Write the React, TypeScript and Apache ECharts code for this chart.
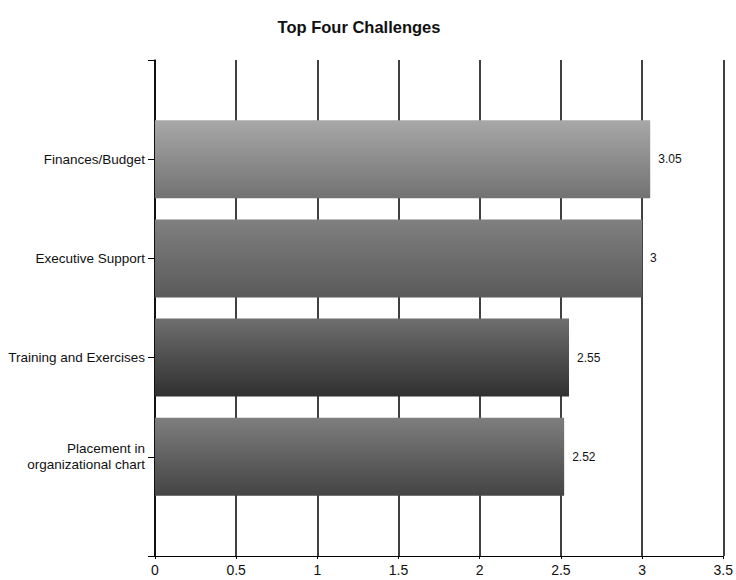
import React, { useEffect, useRef } from "react";
import * as echarts from "echarts";

const titleText = "Top Four Challenges";
const categories = [
  "Finances/Budget",
  "Executive Support",
  "Training and Exercises",
  "Placement in\norganizational chart",
];
const values = [3.05, 3, 2.55, 2.52];
const barTop = ["#a8a8a8", "#808080", "#6e6e6e", "#7e7e7e"];
const barBottom = ["#727272", "#5a5a5a", "#303030", "#444444"];

export default function App() {
  const ref = useRef<HTMLDivElement>(null);
  useEffect(() => {
    if (!ref.current) return;
    const chart = echarts.init(ref.current, undefined, { renderer: "svg" });
    const n = categories.length;
    const yCats = ["", ...categories.slice().reverse(), ""];
    const data: any[] = ["-"];
    for (let i = n - 1; i >= 0; i--) {
      data.push({
        value: values[i],
        itemStyle: {
          color: new echarts.graphic.LinearGradient(0, 0, 0, 1, [
            { offset: 0, color: barTop[i] },
            { offset: 1, color: barBottom[i] },
          ]),
        },
      });
    }
    data.push("-");
    const font = "'Liberation Sans', Arial, sans-serif";
    chart.setOption({
      animation: false,
      backgroundColor: "#ffffff",
      title: {
        text: titleText,
        left: 354,
        top: 13,
        textAlign: "center",
        textStyle: { fontSize: 16.5, fontWeight: "bold", color: "#111", fontFamily: font },
      },
      grid: { left: 155, right: 9, top: 60, bottom: 24, containLabel: false },
      xAxis: {
        type: "value",
        min: 0,
        max: 3.5,
        interval: 0.5,
        axisLine: { show: true, lineStyle: { color: "#000", width: 1 } },
        axisTick: { show: true, length: 3, lineStyle: { color: "#000" } },
        axisLabel: { fontSize: 14, color: "#111", margin: 7, fontFamily: font },
        splitLine: { show: true, lineStyle: { color: "#000", width: 1.5 } },
      },
      yAxis: {
        type: "category",
        data: yCats,
        boundaryGap: false,
        axisLine: { show: true, lineStyle: { color: "#000", width: 1.5 } },
        axisTick: { show: true, length: 7, lineStyle: { color: "#000" } },
        axisLabel: {
          fontSize: 13.5,
          color: "#111",
          margin: 10,
          lineHeight: 16,
          align: "right",
          fontFamily: font,
        },
        splitLine: { show: false },
      },
      series: [
        {
          type: "bar",
          data,
          barWidth: 78,
          label: {
            show: true,
            position: "right",
            distance: 8,
            fontSize: 12,
            color: "#111",
            fontFamily: font,
          },
        },
      ],
    });
    return () => chart.dispose();
  }, []);
  return (
    <div
      ref={ref}
      style={{ position: "absolute", left: 0, top: 0, width: 736, height: 580 }}
    />
  );
}
